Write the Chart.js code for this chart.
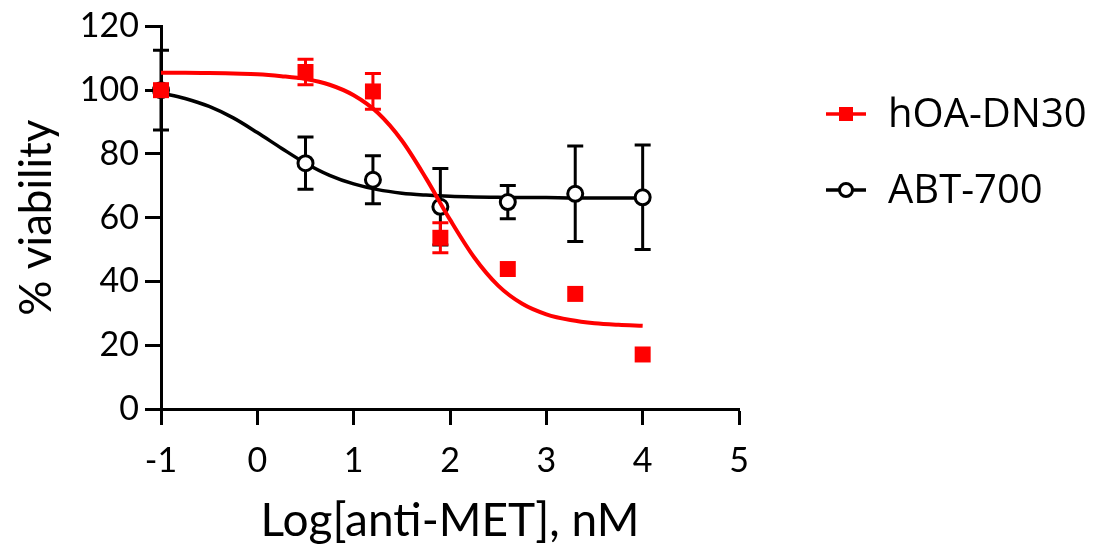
<!DOCTYPE html>
<html>
<head>
<meta charset="utf-8">
<script src="https://cdn.jsdelivr.net/npm/chart.js@4.4.1/dist/chart.umd.min.js"></script>
<style>
  html, body { margin: 0; padding: 0; background: #fff; }
  #wrap { width: 1110px; height: 555px; }
</style>
</head>
<body>
<div id="wrap"><canvas id="chart"></canvas></div>
<script>
// measured points (log nM) with mean and SD error
var doseLog = [-1, 0.5, 1.2, 1.9, 2.6, 3.3, 4.0];
var hoaMean = [100, 105.7, 99.6, 53.7, 43.9, 36.1, 17.1];
var hoaErr = [0, 4, 5.6, 4.7, 0, 0, 0];
var abtMean = [100, 77.1, 71.9, 63.4, 64.9, 67.5, 66.4];
var abtErr = [12.5, 8.2, 7.5, 12, 5.2, 15, 16.4];

// fitted curves
var fitX = [-1, -0.75, -0.5, -0.25, 0, 0.25, 0.5, 0.75, 1, 1.25, 1.5, 1.75, 2, 2.25, 2.5, 2.75, 3, 3.25, 3.5, 3.75, 4];
var hoaFit = [105.5, 105.5, 105.4, 105.2, 105.0, 104.4, 103.5, 101.7, 98.4, 92.9, 84.2, 72.4, 59.4, 47.6, 38.7, 33.0, 29.7, 27.9, 26.9, 26.4, 26.1];
var abtFit = [99.1, 97.4, 94.9, 91.3, 86.7, 81.8, 77.1, 73.3, 70.6, 68.8, 67.7, 67.1, 66.7, 66.5, 66.4, 66.3, 66.3, 66.2, 66.2, 66.2, 66.2];

var seriesNames = ['hOA-DN30', 'ABT-700'];
var xTicks = [-1, 0, 1, 2, 3, 4, 5];

var RED = '#ff0000';
var BLACK = '#000000';

function pairs(xs, ys) {
    return xs.map(function(x, i) { return { x: x, y: ys[i] }; });
}

var errorBars = {
    id: 'errorBars',
    beforeDatasetDraw: function(chart, args) {
        var ds = chart.data.datasets[args.index];
        if (!ds.errors) return;
        var ctx = chart.ctx;
        var xs = chart.scales.x, ys = chart.scales.y;
        ctx.save();
        ctx.strokeStyle = ds.borderColor;
        ctx.lineWidth = 3;
        ds.data.forEach(function(p, i) {
            var e = ds.errors[i];
            if (!e) return;
            var px = xs.getPixelForValue(p.x);
            var top = ys.getPixelForValue(p.y + e);
            var bot = ys.getPixelForValue(p.y - e);
            ctx.beginPath();
            ctx.moveTo(px, top); ctx.lineTo(px, bot);
            ctx.moveTo(px - 8, top); ctx.lineTo(px + 8, top);
            ctx.moveTo(px - 8, bot); ctx.lineTo(px + 8, bot);
            ctx.stroke();
        });
        ctx.restore();
    }
};

var sideLegend = {
    id: 'sideLegend',
    afterDraw: function(chart) {
        var ctx = chart.ctx;
        ctx.save();
        var rows = [
            { name: seriesNames[0], color: RED, y: 114, marker: 'rect' },
            { name: seriesNames[1], color: BLACK, y: 190, marker: 'circle' }
        ];
        rows.forEach(function(r) {
            ctx.strokeStyle = r.color;
            ctx.lineWidth = 3.5;
            ctx.beginPath();
            ctx.moveTo(826, r.y); ctx.lineTo(866, r.y);
            ctx.stroke();
            if (r.marker === 'rect') {
                ctx.fillStyle = r.color;
                ctx.fillRect(839, r.y - 7, 14, 14);
            } else {
                ctx.fillStyle = '#fff';
                ctx.lineWidth = 3;
                ctx.beginPath();
                ctx.arc(846, r.y, 6.5, 0, Math.PI * 2);
                ctx.fill();
                ctx.stroke();
            }
            ctx.fillStyle = '#000';
            ctx.font = '40px "Open Sans"';
            ctx.textBaseline = 'middle';
            ctx.textAlign = 'left';
            ctx.fillText(r.name, 888, r.y + 2);
        });
        ctx.restore();
    }
};

var chart = new Chart(document.getElementById('chart'), {
    type: 'scatter',
    data: {
        datasets: [{
            label: seriesNames[0],
            data: pairs(doseLog, hoaMean),
            errors: hoaErr,
            borderColor: RED,
            backgroundColor: RED,
            pointStyle: 'rect',
            pointRadius: 11.3,
            pointBorderWidth: 0,
            clip: false
        }, {
            label: seriesNames[0] + ' fit',
            data: pairs(fitX, hoaFit),
            showLine: true,
            borderColor: RED,
            borderWidth: 4,
            pointRadius: 0,
            cubicInterpolationMode: 'monotone',
            clip: false
        }, {
            label: seriesNames[1],
            data: pairs(doseLog, abtMean),
            errors: abtErr,
            borderColor: BLACK,
            backgroundColor: '#fff',
            pointStyle: 'circle',
            pointRadius: 7.5,
            pointBorderWidth: 3,
            clip: false
        }, {
            label: seriesNames[1] + ' fit',
            data: pairs(fitX, abtFit),
            showLine: true,
            borderColor: BLACK,
            borderWidth: 3.5,
            pointRadius: 0,
            cubicInterpolationMode: 'monotone',
            clip: false
        }]
    },
    options: {
        responsive: true,
        maintainAspectRatio: false,
        animation: false,
        layout: { padding: { top: 24, right: 371, left: 0, bottom: 0 } },
        plugins: {
            legend: { display: false },
            tooltip: { enabled: false }
        },
        scales: {
            x: {
                type: 'linear',
                min: -1,
                max: 5,
                afterFit: function(s) { s.height = 146; },
                afterBuildTicks: function(s) { s.ticks = xTicks.map(function(v) { return { value: v }; }); },
                border: { color: BLACK, width: 3 },
                grid: { drawOnChartArea: false, tickLength: 16, tickWidth: 3, tickColor: BLACK },
                ticks: { color: BLACK, font: { family: 'Lato', size: 34 }, padding: 16 },
                title: {
                    display: true,
                    text: 'Log[anti-MET], nM',
                    color: BLACK,
                    font: { family: 'Lato', size: 46 },
                    padding: { top: 0, bottom: 6 }
                }
            },
            y: {
                min: 0,
                max: 120,
                afterFit: function(s) { s.width = 161; },
                border: { color: BLACK, width: 3 },
                grid: { drawOnChartArea: false, tickLength: 16, tickWidth: 3, tickColor: BLACK },
                ticks: { stepSize: 20, color: BLACK, font: { family: 'Lato', size: 34 }, padding: 6 },
                title: {
                    display: true,
                    text: '% viability',
                    color: BLACK,
                    font: { family: 'Lato', size: 44 },
                    padding: { top: 10, bottom: 0 }
                }
            }
        }
    },
    plugins: [errorBars, sideLegend]
});
</script>
</body>
</html>
